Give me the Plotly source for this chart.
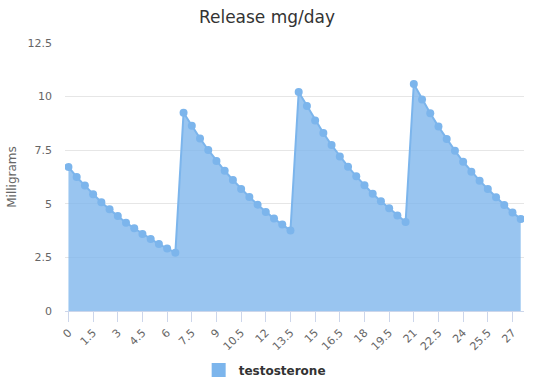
import plotly.graph_objects as go

days = [i * 0.5 for i in range(56)]
testosterone = [
    6.72, 6.25, 5.85, 5.44, 5.07, 4.74, 4.43, 4.12, 3.86, 3.59, 3.36, 3.12, 2.91, 2.72,
    9.25, 8.64, 8.05, 7.51, 7.00, 6.54, 6.11, 5.69, 5.32, 4.96, 4.62, 4.31, 4.03, 3.76,
    10.21, 9.56, 8.89, 8.30, 7.74, 7.21, 6.73, 6.28, 5.86, 5.47, 5.12, 4.79, 4.45, 4.15,
    10.59, 9.87, 9.22, 8.60, 8.02, 7.48, 6.96, 6.50, 6.08, 5.69, 5.30, 4.94, 4.60, 4.29,
]
x_ticks = [i * 1.5 for i in range(19)]
x_tick_labels = ["0", "1.5", "3", "4.5", "6", "7.5", "9", "10.5", "12", "13.5", "15",
                 "16.5", "18", "19.5", "21", "22.5", "24", "25.5", "27"]
y_ticks = [0, 2.5, 5, 7.5, 10, 12.5]
y_tick_labels = ["0", "2.5", "5", "7.5", "10", "12.5"]

FONT = "DejaVu Sans"
COLOR = "#7cb5ec"

fig = go.Figure()
fig.add_trace(go.Scatter(
    x=days, y=testosterone, mode="lines+markers", name="testosterone",
    fill="tozeroy", fillcolor="rgba(124,181,236,0.78)",
    line=dict(color=COLOR, width=2), marker=dict(color=COLOR, size=8),
    showlegend=False,
))
fig.add_trace(go.Scatter(
    x=[None], y=[None], mode="markers", name="testosterone",
    marker=dict(color=COLOR, symbol="square", size=14), showlegend=True,
))

fig.update_layout(
    width=534, height=384,
    margin=dict(l=65, r=10, t=43, b=73, autoexpand=False),
    paper_bgcolor="white", plot_bgcolor="white",
    font=dict(family=FONT, color="#666666", size=11),
    title=dict(text="Release mg/day", x=0.5, xanchor="center",
               y=0.955, yanchor="middle", yref="container",
               font=dict(family=FONT, size=17, color="#333333")),
    legend=dict(orientation="h", x=0.435, xanchor="center", y=-0.22, yanchor="middle",
                font=dict(family=FONT, size=12, color="#333333", weight="bold"),
                itemwidth=30),
    xaxis=dict(range=[-0.21, 27.7], tickvals=x_ticks, ticktext=x_tick_labels,
               tickangle=-45, ticks="outside", ticklen=10, tickcolor="#ccd6eb",
               showline=True, linecolor="#ccd6eb", linewidth=1, automargin=False,
               showgrid=False, zeroline=False, fixedrange=True,
               tickfont=dict(family=FONT, size=11, color="#666666")),
    yaxis=dict(range=[0, 12.5], tickvals=y_ticks, ticktext=y_tick_labels,
               showgrid=True, gridcolor="#e6e6e6", gridwidth=1, zeroline=False,
               showline=False, ticks="", ticklabelstandoff=12, automargin=False,
               title=dict(text="Milligrams", standoff=8,
                          font=dict(family=FONT, size=12, color="#666666")),
               tickfont=dict(family=FONT, size=11, color="#666666")),
)

fig.write_html("out.html", config={"displayModeBar": False},
               post_script="document.body.style.margin='0';")
